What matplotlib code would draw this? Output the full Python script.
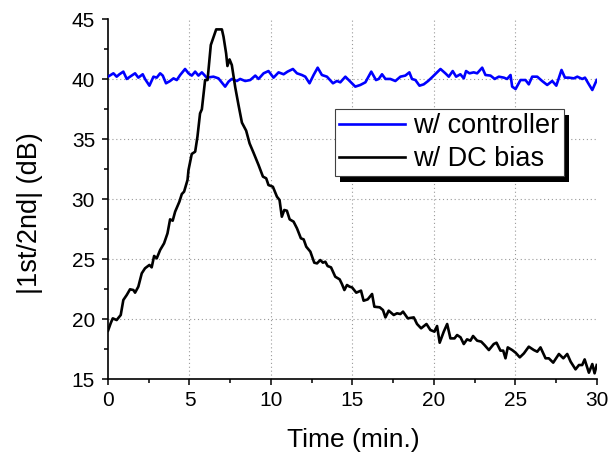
import matplotlib
matplotlib.use("Agg")
import matplotlib.pyplot as plt
from matplotlib.patches import Rectangle

plt.rcParams['font.family'] = ['Liberation Sans', 'DejaVu Sans']

# w/ controller (blue)
ctrl_t = [0.00, 0.33, 0.53, 0.70, 0.94, 1.15, 1.45, 1.66, 1.86, 2.13, 2.27, 2.54, 2.79, 2.99,
          3.20, 3.36, 3.56, 3.81, 4.02, 4.22, 4.43, 4.73, 4.94, 5.14, 5.35, 5.55, 5.76, 6.06,
          6.47, 6.78, 7.19, 7.40, 7.60, 7.91, 8.11, 8.42, 8.73, 9.04, 9.24, 9.55, 9.85, 10.16,
          10.47, 10.78, 11.02, 11.35, 11.60, 11.90, 12.11, 12.37, 12.62, 12.87, 13.13, 13.44,
          13.81, 14.05, 14.26, 14.57, 14.87, 15.18, 15.49, 15.80, 16.16, 16.45, 16.62, 16.82,
          17.03, 17.33, 17.64, 17.95, 18.25, 18.50, 18.66, 18.87, 19.12, 19.38, 19.65, 19.93,
          20.41, 20.71, 20.92, 21.16, 21.37, 21.63, 21.84, 21.98, 22.19, 22.45, 22.66, 22.97,
          23.17, 23.48, 23.74, 23.99, 24.30, 24.50, 24.71, 24.81, 25.02, 25.32, 25.63, 25.83,
          26.04, 26.35, 26.65, 26.96, 27.27, 27.52, 27.84, 28.05, 28.29, 28.60, 28.81, 29.11,
          29.28, 29.48, 29.73, 30.00]
ctrl_db = [40.22, 40.50, 40.22, 40.42, 40.64, 40.03, 40.31, 40.50, 40.14, 40.42, 40.03, 39.47,
           40.22, 40.14, 40.50, 40.31, 39.67, 39.86, 40.08, 39.94, 40.36, 40.86, 40.50, 40.31,
           40.64, 40.31, 40.58, 40.14, 40.22, 40.08, 39.39, 39.81, 40.03, 39.86, 40.03, 39.86,
           39.94, 40.31, 40.03, 40.50, 40.69, 40.14, 40.58, 40.42, 40.64, 40.86, 40.50, 40.36,
           40.22, 39.67, 40.36, 40.97, 40.36, 40.22, 39.67, 39.86, 39.75, 40.22, 39.81, 39.39,
           39.53, 39.75, 40.64, 39.94, 40.03, 40.42, 40.03, 40.03, 39.86, 40.22, 40.31, 40.58,
           40.03, 39.94, 39.47, 39.58, 39.86, 40.22, 40.86, 40.50, 40.22, 40.69, 40.22, 40.42,
           40.08, 40.69, 40.50, 40.58, 40.50, 40.97, 40.36, 40.31, 40.03, 40.22, 40.14, 40.03,
           40.36, 39.39, 39.19, 39.94, 39.94, 39.58, 40.22, 40.22, 39.86, 39.53, 39.86, 39.47,
           40.78, 40.14, 40.14, 40.08, 40.22, 40.03, 40.14, 39.67, 39.11, 39.94]

# w/ DC bias (black)
dc_t = [0.00, 0.16, 0.29, 0.53, 0.78, 0.94, 1.15, 1.35, 1.56, 1.66, 1.86, 2.07, 2.27, 2.54,
        2.68, 2.83, 2.99, 3.20, 3.44, 3.65, 3.81, 3.97, 4.12, 4.38, 4.53, 4.67, 4.88, 4.94,
        5.14, 5.35, 5.49, 5.65, 5.76, 5.96, 6.11, 6.31, 6.43, 6.64, 6.99, 7.09, 7.25, 7.33,
        7.46, 7.60, 7.81, 8.01, 8.22, 8.48, 8.69, 8.93, 9.24, 9.51, 9.71, 9.85, 10.12, 10.37,
        10.53, 10.67, 10.82, 10.98, 11.15, 11.39, 11.60, 11.84, 12.01, 12.17, 12.42, 12.66,
        12.83, 13.03, 13.19, 13.34, 13.48, 13.69, 13.95, 14.22, 14.36, 14.51, 14.67, 14.83,
        14.98, 15.24, 15.53, 15.69, 15.94, 16.21, 16.35, 16.68, 16.88, 17.03, 17.23, 17.54,
        17.74, 17.95, 18.11, 18.40, 18.77, 18.97, 19.22, 19.55, 19.79, 20.04, 20.20, 20.36,
        20.61, 20.82, 21.02, 21.27, 21.43, 21.64, 21.84, 22.04, 22.25, 22.41, 22.66, 22.91,
        23.11, 23.38, 23.68, 23.85, 24.09, 24.26, 24.40, 24.54, 24.81, 25.02, 25.28, 25.53,
        25.83, 26.14, 26.35, 26.55, 26.86, 27.06, 27.33, 27.68, 27.95, 28.19, 28.40, 28.70,
        28.91, 29.11, 29.26, 29.52, 29.73, 29.87, 30.00]
dc_db = [19.05, 19.66, 20.08, 19.94, 20.36, 21.61, 22.03, 22.50, 22.44, 22.22, 22.72, 23.83,
         24.25, 24.53, 24.33, 25.28, 25.08, 25.78, 26.33, 27.16, 28.33, 28.22, 28.97, 29.80,
         30.44, 30.64, 31.61, 32.44, 33.78, 33.97, 35.22, 37.16, 37.50, 39.94, 39.94, 42.86,
         43.33, 44.16, 44.16, 43.55, 42.16, 41.11, 41.66, 41.19, 39.33, 37.86, 36.39, 35.72,
         34.66, 33.89, 32.86, 31.89, 31.75, 31.19, 31.05, 30.22, 29.94, 28.55, 29.11, 29.05,
         28.33, 28.14, 27.58, 26.75, 26.66, 26.05, 25.64, 24.72, 24.66, 24.94, 24.72, 24.80,
         24.44, 24.33, 23.55, 23.33, 22.94, 22.44, 22.86, 22.72, 22.66, 22.22, 22.39, 21.55,
         21.66, 22.11, 21.05, 21.00, 20.77, 20.16, 20.72, 20.36, 20.50, 20.44, 20.64, 20.08,
         20.16, 19.61, 19.25, 19.61, 19.11, 18.97, 19.44, 18.05, 18.97, 19.61, 18.41, 18.41,
         18.69, 18.50, 17.94, 18.33, 18.22, 18.61, 18.22, 18.14, 17.86, 17.44, 17.94, 18.05,
         17.39, 17.39, 16.75, 17.66, 17.44, 17.22, 16.83, 17.16, 17.72, 17.44, 17.30, 17.66,
         16.75, 16.75, 16.39, 17.11, 16.75, 17.11, 16.47, 15.83, 16.19, 16.19, 16.66, 15.55,
         16.27, 15.50, 16.19]

xticks = [0, 5, 10, 15, 20, 25, 30]
yticks = [15, 20, 25, 30, 35, 40, 45]

fig = plt.figure(figsize=(6.11, 4.61), dpi=100)
ax = fig.add_axes([0.1768, 0.1772, 0.7998, 0.7809])

# grid only inside the frame (Origin style)
for gx in xticks[1:-1]:
    ax.axvline(gx, color='#9a9a9a', lw=0.8, ls=(0, (1, 2.5)), zorder=1)
for gy in yticks[1:-1]:
    ax.axhline(gy, color='#9a9a9a', lw=0.8, ls=(0, (1, 2.5)), zorder=1)

ax.plot(ctrl_t, ctrl_db, color='#0000ff', lw=1.9, label='w/ controller', zorder=3)
ax.plot(dc_t, dc_db, color='black', lw=1.9, label='w/ DC bias', zorder=3)

ax.set_xlim(0, 30)
ax.set_ylim(15, 45)
ax.set_xticks(xticks)
ax.set_yticks(yticks)
ax.set_xticks([2.5, 7.5, 12.5, 17.5, 22.5, 27.5], minor=True)
ax.set_yticks([17.5, 22.5, 27.5, 32.5, 37.5, 42.5], minor=True)
ax.tick_params(which='major', direction='out', length=4.3, width=1.1, labelsize=15, pad=4)
ax.tick_params(axis='y', which='major', pad=5)
ax.tick_params(which='minor', direction='out', length=2.6, width=1.1)

ax.spines['top'].set_visible(False)
ax.spines['right'].set_visible(False)
ax.spines['left'].set_linewidth(1.2)
ax.spines['bottom'].set_linewidth(1.2)

fig.text(353.3 / 611, 1 - 440 / 461, 'Time (min.)', ha='center', va='center', fontsize=19)
fig.text(30 / 611, 1 - 212.7 / 461, '|1st/2nd| (dB)', ha='center', va='center',
         rotation=90, fontsize=19.5)

leg = ax.legend(loc='upper left', bbox_to_anchor=(0.4639, 0.75), borderaxespad=0,
                fontsize=19.5, fancybox=False, framealpha=1, edgecolor='#404040',
                handlelength=2.45, handletextpad=0.3, borderpad=0.15, labelspacing=0.25)
leg.get_frame().set_linewidth(0.8)
for ln in leg.get_lines():
    ln.set_linewidth(1.9)

# black drop shadow behind the legend box
fig.canvas.draw()
bb = leg.get_window_extent()
inv = ax.transAxes.inverted()
(x0, y0), (x1, y1) = inv.transform([(bb.x0 + 5.5, bb.y0 - 6), (bb.x1 + 5.5, bb.y1 - 6)])
ax.add_patch(Rectangle((x0, y0), x1 - x0, y1 - y0, transform=ax.transAxes,
                       facecolor='black', edgecolor='none', zorder=4.9, clip_on=False))

fig.savefig('out.png', dpi=100)
